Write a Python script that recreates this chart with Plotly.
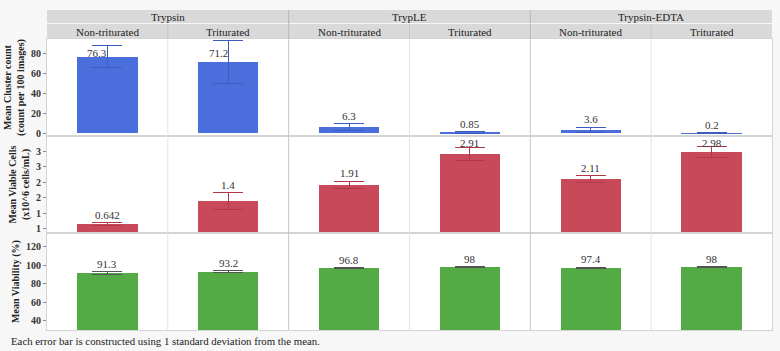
import plotly.graph_objects as go
from plotly.subplots import make_subplots

groups = ["Trypsin", "TrypLE", "Trypsin-EDTA"]
subgroups = ["Non-triturated", "Triturated"]

cluster_mean = [76.3, 71.2, 6.3, 0.85, 3.6, 0.2]
cluster_sd = [11.0, 21.5, 3.2, 1.0, 2.8, 0.5]
cluster_labels = ["76.3", "71.2", "6.3", "0.85", "3.6", "0.2"]

viable_mean = [0.642, 1.4, 1.91, 2.91, 2.11, 2.98]
viable_sd = [0.055, 0.27, 0.12, 0.21, 0.10, 0.18]
viable_labels = ["0.642", "1.4", "1.91", "2.91", "2.11", "2.98"]

viab_mean = [91.3, 93.2, 96.8, 98.0, 97.4, 98.0]
viab_sd = [1.5, 1.0, 0.5, 0.4, 0.5, 0.4]
viab_labels = ["91.3", "93.2", "96.8", "98", "97.4", "98"]

row1_ticks = [0, 20, 40, 60, 80]
row2_ticks = [0.5, 1.0, 1.5, 2.0, 2.5, 3.0]
row2_ticktext = ["1", "1", "2", "2", "3", "3"]
row3_ticks = [40, 60, 80, 100, 120]

titles = ["<b>Mean Cluster count</b><br><b>(count per 100 images)</b>",
          "<b>Mean Viable Cells</b><br><b>(x10^6 cells/mL)</b>",
          "<b>Mean Viability (%)</b>"]
ranges = [[-2.5, 94], [0.36, 3.5], [30, 135]]
colors = ["#4a6fdd", "#c84a5a", "#54ab45"]
err_colors = ["#3d5cc0", "#b03848", "#555555"]

SERIF = "Liberation Serif, Times New Roman, serif"
W, H = 780, 351
ML, MR, MT, MB = 43, 7, 39, 21
PH = H - MT - MB

fig = make_subplots(rows=3, cols=1, shared_xaxes=True, vertical_spacing=0)

xs = list(range(6))
series = [(cluster_mean, cluster_sd, cluster_labels),
          (viable_mean, viable_sd, viable_labels),
          (viab_mean, viab_sd, viab_labels)]
row_px = PH / 3.0
for r, (m, sd, lab) in enumerate(series, start=1):
    fig.add_trace(go.Bar(
        x=xs, y=m, width=0.5, marker=dict(color=colors[r - 1], line=dict(width=0)),
        error_y=dict(type="data", array=sd, visible=True, color=err_colors[r - 1],
                     thickness=1, width=15),
        showlegend=False, hoverinfo="skip"), row=r, col=1)
    lo, hi = ranges[r - 1]
    ppu = row_px / (hi - lo)
    for i in xs:
        top = m[i] + sd[i]
        room = (hi - top) * ppu  # px between cap and panel top
        if room < 10:
            ya, shift, xsh = hi - 14 / ppu, 0, -10
        elif room < 15:
            ya, shift, xsh = hi - 7 / ppu, 0, 0
        else:
            ya, shift, xsh = top, 8, 0
        fig.add_annotation(x=i, y=ya, text=lab[i], showarrow=False,
                           xref="x" if r == 1 else "x%d" % r,
                           yref="y" if r == 1 else "y%d" % r,
                           yshift=shift, xshift=xsh, yanchor="middle",
                           font=dict(family=SERIF, size=11, color="#333333"))

tickvals = [row1_ticks, row2_ticks, row3_ticks]
ticktexts = [[str(v) for v in row1_ticks], row2_ticktext, [str(v) for v in row3_ticks]]
for r in range(1, 4):
    fig.update_yaxes(row=r, col=1, range=ranges[r - 1], tickvals=tickvals[r - 1],
                     ticktext=ticktexts[r - 1], showgrid=False, zeroline=False,
                     ticks="outside", ticklen=3, tickcolor="#888888",
                     tickfont=dict(family=SERIF, size=10, color="#333333", weight="bold"),
                     title=dict(text=titles[r - 1], standoff=4,
                                font=dict(family=SERIF, size=10, color="#222222")),
                     showline=True, linecolor="#d4d4d4", mirror=True)
    fig.update_xaxes(row=r, col=1, range=[-0.5, 5.5], showticklabels=False,
                     showgrid=False, zeroline=False, ticks="",
                     showline=True, linecolor="#d4d4d4", mirror=True)

shapes = []
for i in range(5):
    major = (i % 2 == 1)
    shapes.append(dict(type="line", xref="x", yref="paper", x0=i + 0.5, x1=i + 0.5,
                       y0=0, y1=1, line=dict(color="#c6c6c6" if major else "#e4e4e4", width=1)))
h_sub = 15 / PH
h_grp = 14 / PH
shapes.append(dict(type="rect", xref="paper", yref="paper", x0=0, x1=1, y0=1, y1=1 + h_sub,
                   fillcolor="#d9d9d9", line=dict(width=0), layer="below"))
shapes.append(dict(type="rect", xref="paper", yref="paper", x0=0, x1=1, y0=1 + h_sub + 1 / PH,
                   y1=1 + h_sub + h_grp, fillcolor="#d9d9d9", line=dict(width=0), layer="below"))
for i in range(5):
    major = (i % 2 == 1)
    shapes.append(dict(type="line", xref="x", yref="paper", x0=i + 0.5, x1=i + 0.5,
                       y0=1, y1=1 + (h_sub + h_grp if major else h_sub),
                       line=dict(color="#b8b8b8" if major else "#c8c8c8", width=1)))
fig.update_layout(shapes=shapes)

for gi, g in enumerate(groups):
    fig.add_annotation(x=gi * 2 + 0.5, y=1 + h_sub + h_grp / 2 + 0.5 / PH, xref="x", yref="paper",
                       text=g, showarrow=False, yanchor="middle",
                       font=dict(family=SERIF, size=11, color="#222222"))
    for si, s in enumerate(subgroups):
        fig.add_annotation(x=gi * 2 + si, y=1 + h_sub / 2, xref="x", yref="paper",
                           text=s, showarrow=False, yanchor="middle",
                           font=dict(family=SERIF, size=11, color="#222222"))

fig.add_annotation(x=5 / W, y=-(MB - 10) / PH, xref="paper", yref="paper",
                   xanchor="left", yanchor="middle", showarrow=False,
                   text="Each error bar is constructed using 1 standard deviation from the mean.",
                   font=dict(family=SERIF, size=10.8, color="#222222"), xshift=-ML)

fig.update_layout(width=W, height=H, margin=dict(l=ML, r=MR, t=MT, b=MB),
                  paper_bgcolor="#f7f7f7", plot_bgcolor="#ffffff", bargap=0)

fig.write_html("out.html")
